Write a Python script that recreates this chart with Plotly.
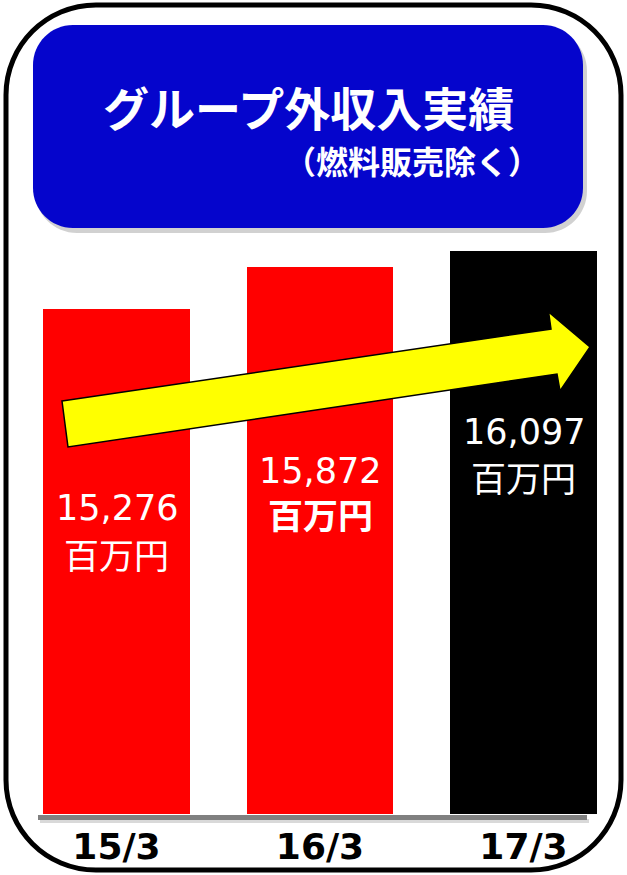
import plotly.graph_objects as go

# ---- data ----
categories = ["15/3", "16/3", "17/3"]
revenue = [15276, 15872, 16097]          # 百万円
bar_colors = ["#FF0000", "#FF0000", "#000000"]
unit_label = "百万円"
unit_bold = [False, True, False]
title_main = "グループ外収入実績"
title_sub = "（燃料販売除く）"

W, H = 627, 875


def px(x):
    return x / W


def py(y):
    return 1 - y / H


def rounded_path(x0, y0, x1, y1, r):
    """Rounded rectangle as an SVG path in paper coordinates (input in pixels)."""
    k = 0.5523 * r
    pts = [
        ("M", [(x0 + r, y0)]),
        ("L", [(x1 - r, y0)]),
        ("C", [(x1 - r + k, y0), (x1, y0 + r - k), (x1, y0 + r)]),
        ("L", [(x1, y1 - r)]),
        ("C", [(x1, y1 - r + k), (x1 - r + k, y1), (x1 - r, y1)]),
        ("L", [(x0 + r, y1)]),
        ("C", [(x0 + r - k, y1), (x0, y1 - r + k), (x0, y1 - r)]),
        ("L", [(x0, y0 + r)]),
        ("C", [(x0, y0 + r - k), (x0 + r - k, y0), (x0 + r, y0)]),
    ]
    out = []
    for cmd, ps in pts:
        out.append(cmd + " " + " ".join(f"{px(a):.5f},{py(b):.5f}" for a, b in ps))
    return " ".join(out) + " Z"


def poly_path(points):
    return "M " + " L ".join(f"{px(a):.5f},{py(b):.5f}" for a, b in points) + " Z"


fig = go.Figure()

fig.add_trace(go.Bar(
    x=list(range(len(categories))),
    y=revenue,
    marker=dict(color=bar_colors, line=dict(width=0)),
    width=0.72,
    hoverinfo="skip",
))

shapes = []
# outer frame
shapes.append(dict(type="path", xref="paper", yref="paper",
                   path=rounded_path(6, 5, 621, 870, 90),
                   line=dict(color="black", width=5), fillcolor="rgba(0,0,0,0)", layer="above"))
# title box shadow + box
shapes.append(dict(type="path", xref="paper", yref="paper",
                   path=rounded_path(35, 29, 587, 233, 42),
                   line=dict(width=0), fillcolor="rgba(0,0,0,0.18)", layer="above"))
shapes.append(dict(type="path", xref="paper", yref="paper",
                   path=rounded_path(33, 25, 583, 228, 40),
                   line=dict(width=0), fillcolor="#0505CC", layer="above"))
# baseline with soft shadow
shapes.append(dict(type="line", xref="paper", yref="paper",
                   x0=px(40), x1=px(589), y0=py(821), y1=py(821),
                   line=dict(color="rgba(0,0,0,0.15)", width=4), layer="above"))
shapes.append(dict(type="line", xref="paper", yref="paper",
                   x0=px(38), x1=px(587), y0=py(817.5), y1=py(817.5),
                   line=dict(color="#808080", width=5), layer="above"))
# growth arrow
arrow_pts = [(62, 401), (551, 329), (548.6, 312), (590, 347),
             (560, 391), (557, 374), (68, 447)]
shapes.append(dict(type="path", xref="paper", yref="paper",
                   path=poly_path(arrow_pts),
                   line=dict(color="black", width=1.5), fillcolor="#FFFF00", layer="above"))

annotations = []
annotations.append(dict(xref="paper", yref="paper", x=px(308), y=py(106),
                        text=f"<b>{title_main}</b>", showarrow=False,
                        font=dict(family="Noto Sans CJK JP", size=46, color="white"),
                        xanchor="center", yanchor="middle"))
annotations.append(dict(xref="paper", yref="paper", x=px(542), y=py(160),
                        text=f"<b>{title_sub}</b>", showarrow=False,
                        font=dict(family="Noto Sans CJK JP", size=32, color="white"),
                        xanchor="right", yanchor="middle"))

# value labels inside the bars (pixel heights of the two text lines)
label_rows = [(508, 553), (471, 513), (432, 476)]
for i, v in enumerate(revenue):
    y_num, y_unit = label_rows[i]
    annotations.append(dict(xref="x", yref="paper", x=i, y=py(y_num),
                            text=f"{v:,}", showarrow=False,
                            font=dict(family="DejaVu Sans", size=35, color="white"),
                            xanchor="center", yanchor="middle"))
    unit_txt = f"<b>{unit_label}</b>" if unit_bold[i] else unit_label
    annotations.append(dict(xref="x", yref="paper", x=i, y=py(y_unit),
                            text=unit_txt, showarrow=False,
                            font=dict(family="Noto Sans CJK JP", size=35, color="white"),
                            xanchor="center", yanchor="middle"))

y_floor = 8060
px_per_unit = 0.07
plot_px = 814

fig.update_layout(
    width=W, height=H,
    margin=dict(l=0, r=0, t=0, b=0),
    paper_bgcolor="white",
    plot_bgcolor="rgba(0,0,0,0)",
    showlegend=False,
    bargap=0,
    shapes=shapes,
    annotations=annotations,
    xaxis=dict(
        range=[-116.5 / 203.5, 2 + (W - 523.5) / 203.5],
        tickvals=list(range(len(categories))),
        ticktext=categories,
        tickfont=dict(family="DejaVu Sans", size=36, color="black", weight="bold"),
        showgrid=False, zeroline=False, showline=False, ticks="",
        ticklabelstandoff=8,
    ),
    yaxis=dict(
        domain=[(H - plot_px) / H, 1],
        range=[y_floor, y_floor + plot_px / px_per_unit],
        visible=False,
    ),
)

fig.write_html("out.html")
